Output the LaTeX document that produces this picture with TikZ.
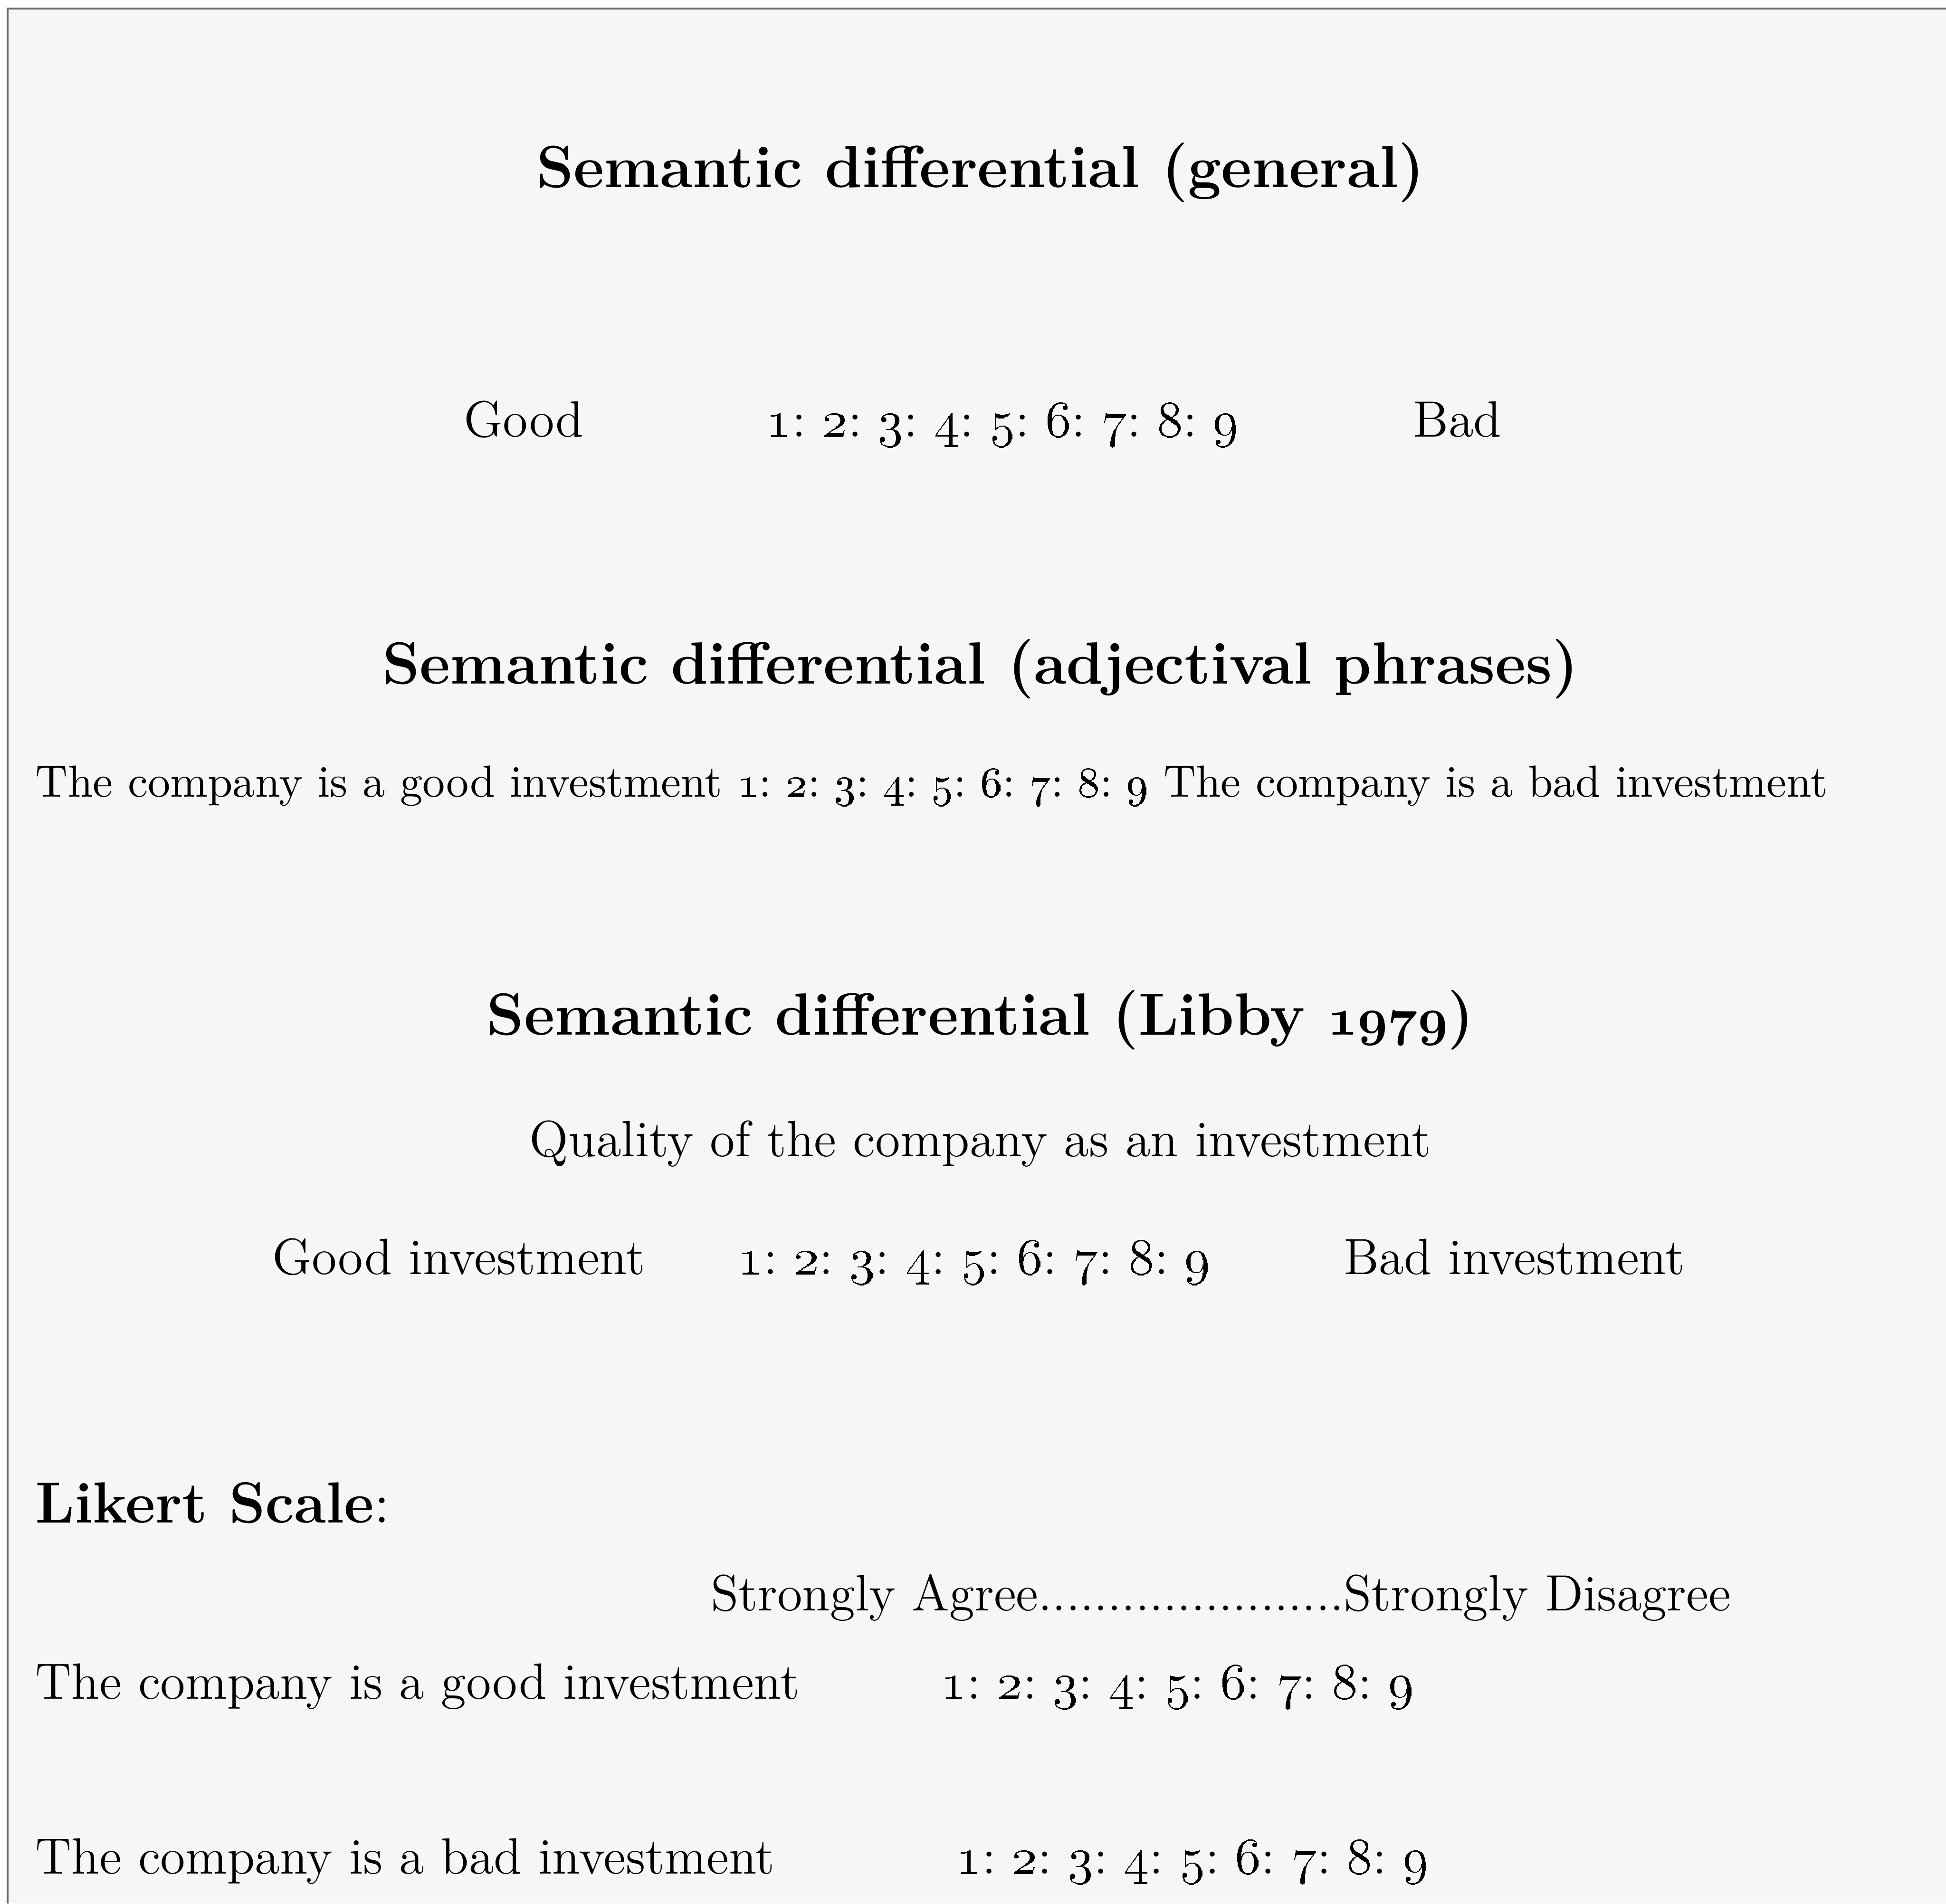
\documentclass[tikz,border=0pt]{standalone}
\usepackage{xcolor}
\definecolor{pagegray}{RGB}{246,246,246}
\definecolor{framegray}{RGB}{105,105,105}
\usepackage{tikz}
\usetikzlibrary{positioning}

% rating digits with old style figures
\newcommand{\osn}[1]{\oldstylenums{#1}:\hspace{0.32em}}
\newcommand{\ninepts}{\osn{1}\osn{2}\osn{3}\osn{4}\osn{5}\osn{6}\osn{7}\osn{8}\oldstylenums{9}}
\newcommand{\boldosn}[1]{{\fontsize{12}{14}\usefont{OML}{cmm}{b}{it}#1}}

\tikzset{
  heading/.style={font=\fontsize{13.65}{16}\selectfont\bfseries, anchor=base, inner sep=0pt},
  body/.style={font=\fontsize{11.7}{14}\selectfont, anchor=base west, inner sep=0pt},
}

\begin{document}
\begin{tikzpicture}
  \useasboundingbox (0,0) rectangle (15.68,-15.34);
  % Page and frame
  \fill[white] (0,0) rectangle (15.68,-15.34);
  \fill[pagegray] (0.06,-0.07) rectangle (15.68,-15.34);
  \draw[framegray, line width=0.4pt] (0.06,-15.34) -- (0.06,-0.07) -- (15.68,-0.07);

  % --- Semantic differential (general) ---
  \node[heading] (titleGen) at (7.9,-1.51) {Semantic differential (general)};
  \node[body] (goodA) at (3.73,-3.52) {Good};
  \node[body] (scaleA) at (6.17,-3.52) {\ninepts};
  \node[body] (badA) at (11.38,-3.52) {Bad};

  % --- Semantic differential (adjectival phrases) ---
  \node[heading] (titleAdj) at (7.9,-5.51) {Semantic differential (adjectival phrases)};
  \node[body, font=\fontsize{10.3}{12}\selectfont] (phraseRow) at (0.28,-6.42)
    {The company is a good investment \ninepts{} The company is a bad investment};

  % --- Semantic differential (Libby 1979) ---
  \node[heading] (titleLibby) at (7.9,-8.34) {Semantic differential (Libby \boldosn{1979})};
  \node[body, anchor=base] (quality) at (7.9,-9.32) {Quality of the company as an investment};
  \node[body] (goodB) at (2.19,-10.27) {Good investment};
  \node[body] (scaleB) at (5.94,-10.27) {\ninepts};
  \node[body] (badB) at (10.82,-10.27) {Bad investment};

  % --- Likert scale ---
  \node[body, font=\fontsize{13.3}{16}\selectfont] (likert) at (0.28,-12.27) {\textbf{Likert Scale}:};
  \node[body] (anchors) at (5.72,-12.98) {Strongly Agree......................Strongly Disagree};
  \node[body] (goodC) at (0.28,-13.69) {The company is a good investment};
  \node[body] (scaleC) at (7.58,-13.69) {\ninepts};
  \node[body] (badC) at (0.28,-15.10) {The company is a bad investment};
  \node[body] (scaleD) at (7.70,-15.10) {\ninepts};
\end{tikzpicture}
\end{document}
